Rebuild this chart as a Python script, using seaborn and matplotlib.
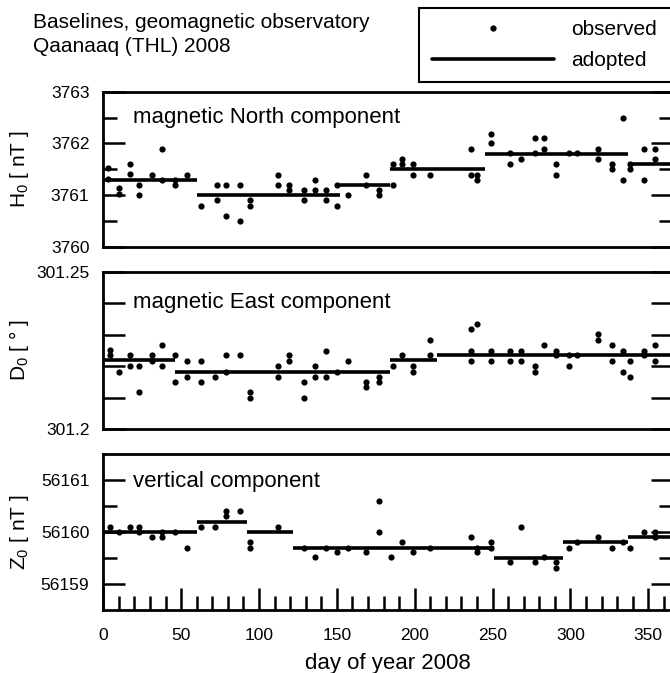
import numpy as np
import pandas as pd
import matplotlib
matplotlib.use("Agg")
import matplotlib.pyplot as plt
from matplotlib.lines import Line2D
import seaborn as sns

# ---------------- data ----------------
# H0 (magnetic North component) observed baselines
h_day = [3, 3, 10, 10, 17, 17, 23, 23, 31, 38, 38, 46, 46, 54,
         63, 73, 73, 79, 79, 88, 88, 94, 94, 112, 112, 119, 119, 129, 129,
         136, 136, 143, 143, 150, 150,
         157, 169, 169, 177, 177, 186,
         186, 192, 192, 199, 199, 210, 236, 236, 240, 240,
         249, 249, 261, 261, 268, 277, 277, 283, 283, 291, 291, 299, 304,
         318, 318, 327, 327, 334, 334,
         338, 338, 347, 347, 354, 354]
h_val = [3761.52, 3761.32, 3761.13, 3761.02, 3761.61, 3761.41, 3761.19, 3761.00, 3761.39, 3761.89, 3761.29, 3761.29, 3761.19, 3761.39,
         3760.79, 3761.19, 3760.90, 3761.19, 3760.59, 3761.19, 3760.49, 3760.90, 3760.79, 3761.39, 3761.19, 3761.19, 3761.10, 3761.10, 3760.90,
         3761.29, 3761.10, 3761.10, 3760.90, 3761.19, 3760.79,
         3761.00, 3761.39, 3761.19, 3761.10, 3761.00, 3761.19,
         3761.60, 3761.70, 3761.60, 3761.60, 3761.39, 3761.39, 3761.89, 3761.39, 3761.39, 3761.29,
         3762.19, 3762.00, 3761.81, 3761.60, 3761.70, 3762.10, 3761.81, 3762.10, 3761.89, 3761.60, 3761.39, 3761.81, 3761.81,
         3761.89, 3761.70, 3761.60, 3761.50, 3762.50, 3761.29,
         3761.60, 3761.50, 3761.89, 3761.29, 3761.89, 3761.70]
h_seg_start = [0, 60, 152, 184, 245, 337]
h_seg_end = [60, 152, 184, 245, 337, 366]
h_seg_val = [3761.3, 3761.0, 3761.2, 3761.5, 3761.8, 3761.6]

# D0 (magnetic East component) observed baselines
d_day = [4, 4, 10, 17, 17, 23, 23, 31, 31, 38, 38, 46, 46,
         54, 54, 63, 63, 72, 79, 79, 88, 94, 94, 112, 112, 119, 119, 129, 129,
         136, 136, 143, 143, 150, 157, 169, 169, 177, 177,
         186, 192, 199, 199, 210, 210,
         236, 240, 236, 236, 249, 249, 261, 261, 268, 268, 277, 277, 283,
         291, 291, 299, 299, 304, 318, 318, 327, 327, 334, 334, 338, 338,
         347, 347, 354, 354]
d_val = [301.2253, 301.2235, 301.2183, 301.2235, 301.2200, 301.2200, 301.2117, 301.2235, 301.2216, 301.2269, 301.2200, 301.2235, 301.2151,
         301.2216, 301.2167, 301.2216, 301.2151, 301.2167, 301.2235, 301.2183, 301.2235, 301.2117, 301.2100, 301.2200, 301.2167, 301.2235, 301.2216, 301.2151, 301.2100,
         301.2200, 301.2167, 301.2250, 301.2167, 301.2183, 301.2216, 301.2151, 301.2135, 301.2167, 301.2151,
         301.2200, 301.2235, 301.2200, 301.2183, 301.2285, 301.2235,
         301.2317, 301.2334, 301.2250, 301.2216, 301.2250, 301.2216, 301.2250, 301.2216, 301.2250, 301.2216, 301.2200, 301.2183, 301.2269,
         301.2250, 301.2235, 301.2235, 301.2200, 301.2235, 301.2301, 301.2285, 301.2269, 301.2216, 301.2250, 301.2183, 301.2216, 301.2167,
         301.2250, 301.2235, 301.2269, 301.2216]
d_seg_start = [0, 46, 184, 214]
d_seg_end = [46, 184, 214, 366]
d_seg_val = [301.2219, 301.2183, 301.2219, 301.2235]

# Z0 (vertical component) observed baselines
z_day = [4, 10, 17, 23, 23, 31, 38, 38, 46, 54,
         63, 72, 79, 79, 88,
         94, 94, 112,
         129, 136, 143, 150, 157, 169, 177, 177, 185, 192, 199, 210, 236, 240, 240, 249, 249,
         261, 268, 277, 283, 291, 291,
         299, 304, 318, 327, 334, 338,
         347, 354, 354]
z_val = [56160.10, 56160.00, 56160.10, 56160.10, 56160.00, 56159.90, 56160.00, 56159.90, 56160.00, 56159.70,
         56160.10, 56160.10, 56160.40, 56160.30, 56160.40,
         56159.80, 56159.70, 56160.10,
         56159.70, 56159.51, 56159.70, 56159.61, 56159.70, 56159.61, 56160.59, 56160.00, 56159.51, 56159.80, 56159.61, 56159.70, 56159.90, 56159.61, 56159.70, 56159.80, 56159.70,
         56159.42, 56160.10, 56159.42, 56159.51, 56159.42, 56159.30,
         56159.70, 56159.80, 56159.90, 56159.70, 56159.80, 56159.70,
         56160.00, 56160.00, 56159.90]
z_seg_start = [0, 60, 92, 122, 251, 295, 337]
z_seg_end = [60, 92, 122, 251, 295, 337, 366]
z_seg_val = [56160.0, 56160.2, 56160.0, 56159.7, 56159.5, 56159.8, 56159.9]

x_ticks = [0, 50, 100, 150, 200, 250, 300, 350]
x_minor = list(range(0, 367, 10))

# ---------------- style ----------------
sns.set_theme(style="white")
plt.rcParams["font.family"] = ["Liberation Sans", "DejaVu Sans"]
plt.rcParams["mathtext.fontset"] = "custom"
plt.rcParams["mathtext.rm"] = "Liberation Sans"
plt.rcParams["mathtext.it"] = "Liberation Sans:italic"
plt.rcParams["axes.linewidth"] = 2.0
for key in ["text.color", "axes.labelcolor", "xtick.color", "ytick.color", "axes.edgecolor"]:
    plt.rcParams[key] = "black"

W, H = 670, 673
fig = plt.figure(figsize=(W / 100, H / 100), dpi=100)

left = 103.3 / W
width = (673.2 - 103.3) / W
panels = [(91.7, 246.7), (272.0, 429.0), (454.0, 610.0)]
axes = []
for top, bot in panels:
    ax = fig.add_axes([left, 1 - bot / H, width, (bot - top) / H])
    axes.append(ax)

datasets = [
    (h_day, h_val, h_seg_start, h_seg_end, h_seg_val),
    (d_day, d_val, d_seg_start, d_seg_end, d_seg_val),
    (z_day, z_val, z_seg_start, z_seg_end, z_seg_val),
]

for ax, (dx, dy, s0, s1, sv) in zip(axes, datasets):
    df = pd.DataFrame({"day": dx, "value": dy})
    sns.scatterplot(data=df, x="day", y="value", ax=ax, color="black",
                    s=20, linewidth=0, zorder=3, legend=False)
    ax.hlines(sv, s0, s1, colors="black", linewidth=2.6, zorder=2)
    ax.set_xlim(0, 366)
    for sp in ax.spines.values():
        sp.set_color("black")
        sp.set_linewidth(2.0)
    ax.set_xlabel("")
    ax.set_ylabel("")

tick_kw = dict(direction="in", color="black", width=1.8, labelsize=12.5, labelcolor="black")

# Panel 1: H0
ax = axes[0]
ax.set_ylim(3760, 3763)
ax.set_yticks([3760, 3761, 3762, 3763], ["3760", "3761", "3762", "3763"])
ax.set_yticks([3760.5, 3761.5, 3762.5], minor=True)
ax.text(19, 3762.5, "magnetic North component", fontsize=16, va="center", ha="left")
ax.set_ylabel("H$_\\mathregular{0}$ [ nT ]", fontsize=15)

# Panel 2: D0
ax = axes[1]
ax.set_ylim(301.2, 301.25)
ax.set_yticks([301.2, 301.21, 301.22, 301.23, 301.24, 301.25],
              ["301.2", "", "", "", "", "301.25"])
ax.text(19, 301.2402, "magnetic East component", fontsize=16, va="center", ha="left")
ax.set_ylabel("D$_\\mathregular{0}$ [ ° ]", fontsize=15)

# Panel 3: Z0
ax = axes[2]
ax.set_ylim(56158.5, 56161.5)
ax.set_yticks([56159, 56160, 56161], ["56159", "56160", "56161"])
ax.set_yticks([56159.5, 56160.5], minor=True)
ax.text(19, 56160.97, "vertical component", fontsize=16, va="center", ha="left")
ax.set_ylabel("Z$_\\mathregular{0}$ [ nT ]", fontsize=15)

for i, ax in enumerate(axes):
    ax.tick_params(axis="y", which="major", left=True, right=True, length=16, pad=10, **tick_kw)
    ax.tick_params(axis="y", which="minor", left=True, right=True, length=10, **tick_kw)
    ax.yaxis.set_label_coords(-0.127, 0.5)
    if i < 2:
        ax.set_xticks([])
        ax.tick_params(axis="x", which="both", bottom=False, top=False, labelbottom=False)
    else:
        ax.set_xticks(x_ticks, [str(v) for v in x_ticks])
        ax.set_xticks(x_minor, minor=True)
        ax.tick_params(axis="x", which="major", bottom=True, top=False, length=16, pad=13, **tick_kw)
        ax.tick_params(axis="x", which="minor", bottom=True, top=False, length=10, **tick_kw)
        ax.set_xlabel("day of year 2008", fontsize=16, labelpad=7)

fig.text(33 / W, 1 - 22 / H, "Baselines, geomagnetic observatory", fontsize=15, va="center", ha="left")
fig.text(33 / W, 1 - 46 / H, "Qaanaaq (THL) 2008", fontsize=15, va="center", ha="left")

handles = [Line2D([], [], ls="none", marker="o", ms=3.5, color="black"),
           Line2D([], [], color="black", lw=2.6)]
leg_top = 1 - 8 / H
leg = fig.legend(handles=handles, labels=["observed", "adopted"], loc="upper left",
                 bbox_to_anchor=(419 / W, 0.5, 280 / W, leg_top - 0.5), mode="expand",
                 borderaxespad=0, frameon=True,
                 fancybox=False, edgecolor="black", framealpha=1, handlelength=5.9,
                 handletextpad=0.8, labelspacing=0.55, borderpad=0.6, fontsize=15)
leg.get_frame().set_linewidth(1.5)

fig.savefig("out.png", dpi=100)
